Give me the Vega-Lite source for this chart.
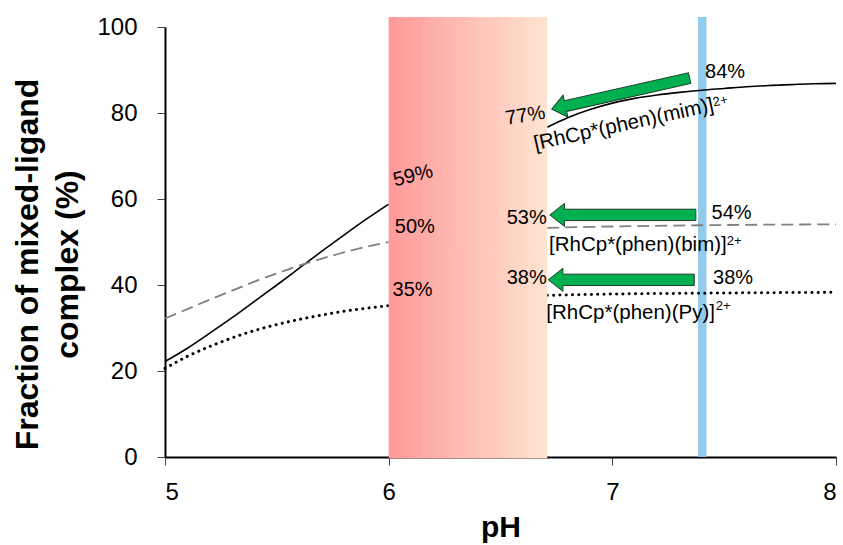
{
  "$schema": "https://vega.github.io/schema/vega-lite/v6.json",
  "width": 671,
  "height": 430,
  "autosize": {"type": "none"},
  "padding": {"left": 165, "top": 27, "right": 7, "bottom": 88},
  "config": {
    "font": "Liberation Sans",
    "view": {"stroke": null},
    "axis": {
      "domainColor": "#000000",
      "domainWidth": 2,
      "tickColor": "#444444",
      "tickWidth": 1,
      "tickSize": 8,
      "labelFont": "Liberation Sans",
      "labelFontSize": 24,
      "labelColor": "#000000",
      "titleFont": "Liberation Sans",
      "titleFontWeight": "bold",
      "titleColor": "#000000",
      "grid": false
    }
  },
  "datasets": {
    "mim": [
      {"pH": 5.0, "pct": 22.2, "seg": "a"}, {"pH": 5.1, "pct": 25.3, "seg": "a"},
      {"pH": 5.2, "pct": 28.8, "seg": "a"}, {"pH": 5.3, "pct": 32.4, "seg": "a"},
      {"pH": 5.4, "pct": 36.2, "seg": "a"}, {"pH": 5.5, "pct": 40.0, "seg": "a"},
      {"pH": 5.6, "pct": 43.9, "seg": "a"}, {"pH": 5.7, "pct": 47.8, "seg": "a"},
      {"pH": 5.8, "pct": 51.6, "seg": "a"}, {"pH": 5.9, "pct": 55.3, "seg": "a"},
      {"pH": 6.0, "pct": 58.8, "seg": "a"},
      {"pH": 6.709, "pct": 76.7, "seg": "b"}, {"pH": 6.8, "pct": 78.9, "seg": "b"},
      {"pH": 6.9, "pct": 80.8, "seg": "b"}, {"pH": 7.0, "pct": 82.3, "seg": "b"},
      {"pH": 7.1, "pct": 83.4, "seg": "b"}, {"pH": 7.2, "pct": 84.2, "seg": "b"},
      {"pH": 7.3, "pct": 84.8, "seg": "b"}, {"pH": 7.4, "pct": 85.3, "seg": "b"},
      {"pH": 7.5, "pct": 85.7, "seg": "b"}, {"pH": 7.6, "pct": 86.1, "seg": "b"},
      {"pH": 7.7, "pct": 86.4, "seg": "b"}, {"pH": 7.8, "pct": 86.6, "seg": "b"},
      {"pH": 7.9, "pct": 86.8, "seg": "b"}, {"pH": 8.0, "pct": 86.9, "seg": "b"}
    ],
    "bim": [
      {"pH": 5.0, "pct": 32.2, "seg": "a"}, {"pH": 5.1, "pct": 34.4, "seg": "a"},
      {"pH": 5.2, "pct": 36.6, "seg": "a"}, {"pH": 5.3, "pct": 38.7, "seg": "a"},
      {"pH": 5.4, "pct": 40.8, "seg": "a"}, {"pH": 5.5, "pct": 42.7, "seg": "a"},
      {"pH": 5.6, "pct": 44.5, "seg": "a"}, {"pH": 5.7, "pct": 46.1, "seg": "a"},
      {"pH": 5.8, "pct": 47.6, "seg": "a"}, {"pH": 5.9, "pct": 48.9, "seg": "a"},
      {"pH": 6.0, "pct": 50.0, "seg": "a"},
      {"pH": 6.709, "pct": 53.3, "seg": "b"}, {"pH": 7.0, "pct": 53.6, "seg": "b"},
      {"pH": 7.4, "pct": 53.9, "seg": "b"}, {"pH": 8.0, "pct": 54.1, "seg": "b"}
    ],
    "py": [
      {"pH": 5.0, "pct": 20.6, "seg": "a"}, {"pH": 5.1, "pct": 23.4, "seg": "a"},
      {"pH": 5.2, "pct": 25.7, "seg": "a"}, {"pH": 5.3, "pct": 27.7, "seg": "a"},
      {"pH": 5.4, "pct": 29.4, "seg": "a"}, {"pH": 5.5, "pct": 30.8, "seg": "a"},
      {"pH": 5.6, "pct": 32.0, "seg": "a"}, {"pH": 5.7, "pct": 33.0, "seg": "a"},
      {"pH": 5.8, "pct": 33.9, "seg": "a"}, {"pH": 5.9, "pct": 34.6, "seg": "a"},
      {"pH": 6.0, "pct": 35.2, "seg": "a"},
      {"pH": 6.709, "pct": 37.6, "seg": "b"}, {"pH": 7.0, "pct": 37.9, "seg": "b"},
      {"pH": 7.4, "pct": 38.1, "seg": "b"}, {"pH": 8.0, "pct": 38.3, "seg": "b"}
    ]
  },
  "encoding": {
    "x": {
      "field": "pH", "type": "quantitative",
      "scale": {"domain": [5, 8], "nice": false, "zero": false},
      "axis": {"values": [5, 6, 7, 8], "title": "pH", "titleFontSize": 30, "labelPadding": 15, "titlePadding": 8}
    },
    "y": {
      "field": "pct", "type": "quantitative",
      "scale": {"domain": [0, 100], "nice": false},
      "axis": {"values": [0, 20, 40, 60, 80, 100], "title": ["Fraction of mixed-ligand", "complex (%)"], "titleFontSize": 32, "titleLineHeight": 40, "labelPadding": 20, "titlePadding": 12, "titleY": 237}
    }
  },
  "layer": [
    {
      "data": {"values": [{"pH": 7.383, "pH2": 7.421, "pct": 0, "pct2": 102.3}]},
      "mark": {"type": "rect", "color": "#92CBEB", "clip": false},
      "encoding": {
        "x2": {"field": "pH2"},
        "y2": {"field": "pct2"}
      }
    },
    {
      "data": {"name": "mim"},
      "mark": {"type": "line", "color": "#000000", "strokeWidth": 1.6, "interpolate": "monotone"},
      "encoding": {"detail": {"field": "seg"}}
    },
    {
      "data": {"name": "bim"},
      "mark": {"type": "line", "color": "#808080", "strokeWidth": 1.8, "strokeDash": [12, 6], "interpolate": "monotone"},
      "encoding": {"detail": {"field": "seg"}}
    },
    {
      "data": {"name": "py"},
      "mark": {"type": "line", "color": "#000000", "strokeWidth": 3, "strokeDash": [0.1, 6.2], "strokeCap": "round", "interpolate": "monotone"},
      "encoding": {"detail": {"field": "seg"}}
    },
    {
      "data": {"values": [{"pH": 6.0, "pH2": 6.709, "pct": -0.3, "pct2": 102.3}]},
      "mark": {
        "type": "rect", "clip": false,
        "color": {"gradient": "linear", "x1": 0, "y1": 0, "x2": 1, "y2": 0,
          "stops": [{"offset": 0, "color": "#FF9999"}, {"offset": 1, "color": "#FFE4D1"}]}
      },
      "encoding": {
        "x2": {"field": "pH2"},
        "y2": {"field": "pct2"}
      }
    },
    {
      "data": {"values": [{"pH": 7.047, "pct": 56.3}, {"pH": 7.040, "pct": 41.2}]},
      "mark": {"type": "point", "shape": "M-1,0L-0.8,-0.158L-0.8,-0.078L1,-0.078L1,0.078L-0.8,0.078L-0.8,0.158Z", "filled": true, "fill": "#00B050", "stroke": "#1E3D24", "strokeWidth": 1, "opacity": 1, "size": 21316}
    },
    {
      "data": {"values": [{"pH": 7.037, "pct": 84.5}]},
      "mark": {"type": "point", "shape": "M-1,0L-0.8,-0.158L-0.8,-0.078L1,-0.078L1,0.078L-0.8,0.078L-0.8,0.158Z", "filled": true, "fill": "#00B050", "stroke": "#1E3D24", "strokeWidth": 1, "opacity": 1, "size": 20000, "angle": 347.3}
    },
    {
      "data": {"values": [
        {"pH": 6.117, "pct": 53.5, "label": "50%"},
        {"pH": 6.107, "pct": 38.9, "label": "35%"},
        {"pH": 7.504, "pct": 89.5, "label": "84%"},
        {"pH": 7.533, "pct": 56.7, "label": "54%"},
        {"pH": 7.54, "pct": 41.6, "label": "38%"},
        {"pH": 6.617, "pct": 55.5, "label": "53%"},
        {"pH": 6.617, "pct": 41.7, "label": "38%"}
      ]},
      "mark": {"type": "text", "fontSize": 20, "align": "center", "baseline": "middle", "color": "#000000"},
      "encoding": {"text": {"field": "label"}}
    },
    {
      "data": {"values": [{"pH": 6.109, "pct": 65.4, "label": "59%"}]},
      "mark": {"type": "text", "fontSize": 20, "align": "center", "baseline": "middle", "color": "#000000", "angle": 346},
      "encoding": {"text": {"field": "label"}}
    },
    {
      "data": {"values": [{"pH": 6.611, "pct": 79.4, "label": "77%"}]},
      "mark": {"type": "text", "fontSize": 20, "align": "center", "baseline": "middle", "color": "#000000", "angle": 351},
      "encoding": {"text": {"field": "label"}}
    },
    {
      "data": {"values": [
        {"pH": 6.717, "pct": 49.3, "label": "[RhCp*(phen)(bim)]"},
        {"pH": 6.705, "pct": 33.4, "label": "[RhCp*(phen)(Py)]"}
      ]},
      "mark": {"type": "text", "fontSize": 20.5, "align": "left", "baseline": "middle", "color": "#000000"},
      "encoding": {"text": {"field": "label"}}
    },
    {
      "data": {"values": [{"pH": 6.651, "pct": 72.7, "label": "[RhCp*(phen)(mim)]"}]},
      "mark": {"type": "text", "fontSize": 20.5, "align": "left", "baseline": "middle", "color": "#000000", "angle": 347.6},
      "encoding": {"text": {"field": "label"}}
    },
    {
      "data": {"values": [
        {"pH": 7.512, "pct": 50.2, "label": "2+"},
        {"pH": 7.462, "pct": 35.2, "label": "2+"}
      ]},
      "mark": {"type": "text", "fontSize": 13, "align": "left", "baseline": "middle", "color": "#000000"},
      "encoding": {"text": {"field": "label"}}
    },
    {
      "data": {"values": [{"pH": 7.45, "pct": 82.4, "label": "2+"}]},
      "mark": {"type": "text", "fontSize": 13, "align": "left", "baseline": "middle", "color": "#000000", "angle": 348},
      "encoding": {"text": {"field": "label"}}
    }
  ]
}
